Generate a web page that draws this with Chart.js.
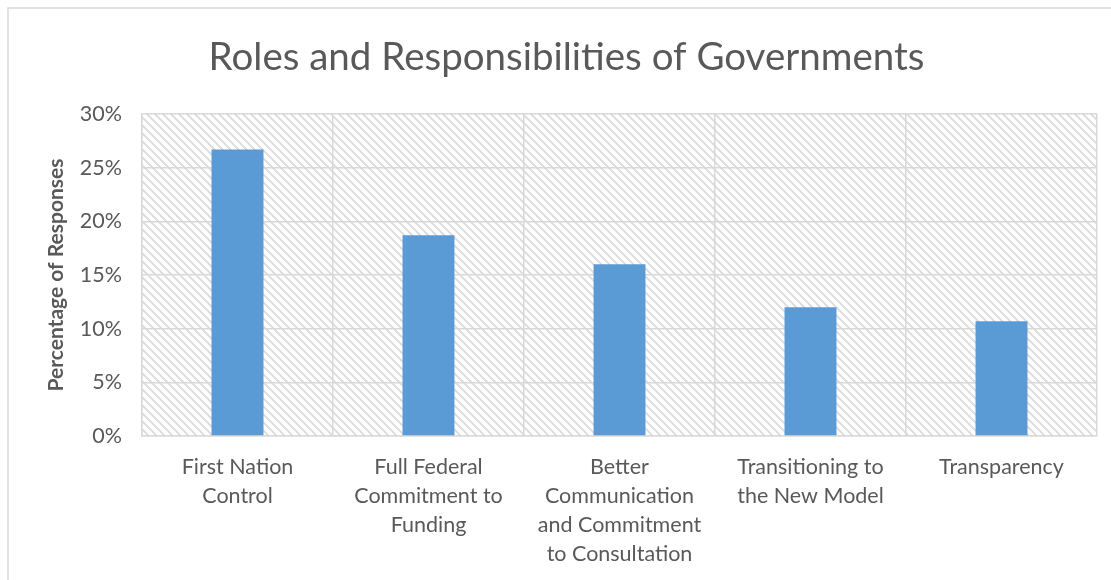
<!DOCTYPE html>
<html>
<head>
<meta charset="utf-8">
<script src="https://cdn.jsdelivr.net/npm/chart.js@4"></script>
<style>
  body { margin: 0; background: #fff; }
  #wrap { width: 1111px; height: 580px; }
</style>
</head>
<body>
<div id="wrap"><canvas id="myChart" width="1111" height="580"></canvas></div>
<script>
const categorias = [
    ['First Nation', 'Control'],
    ['Full Federal', 'Commitment to', 'Funding'],
    ['Better', 'Communication', 'and Commitment', 'to Consultation'],
    ['Transitioning to', 'the New Model'],
    ['Transparency']
];
const porcentajes = [26.7, 18.7, 16.0, 12.0, 10.7];
const tituloGrafico = 'Roles and Responsibilities of Governments';
const tituloEjeY = 'Percentage of Responses';

const fuente = 'Lato, "Open Sans", sans-serif';
const gris = '#595959';
const lineaGris = '#d9d9d9';

// hatch fill for the plot area, diagonal "\" stripes
function crearTrama() {
    const c = document.createElement('canvas');
    c.width = 8;
    c.height = 8;
    const g = c.getContext('2d');
    g.fillStyle = '#ffffff';
    g.fillRect(0, 0, 8, 8);
    g.fillStyle = '#e0e0e0';
    for (let y = 0; y < 8; y++) {
        for (let x = 0; x < 8; x++) {
            if (((x - y) % 8 + 8) % 8 < 3) g.fillRect(x, y, 1, 1);
        }
    }
    return c;
}

const fondoTrama = {
    id: 'fondoTrama',
    beforeDraw(chart) {
        const { ctx, chartArea } = chart;
        ctx.save();
        // outer chart frame
        ctx.strokeStyle = lineaGris;
        ctx.lineWidth = 1.5;
        ctx.strokeRect(8, 8, 1120, 600);
        ctx.fillStyle = ctx.createPattern(crearTrama(), 'repeat');
        ctx.fillRect(chartArea.left, chartArea.top, chartArea.right - chartArea.left, chartArea.bottom - chartArea.top);
        ctx.restore();
    }
};

const ctx = document.getElementById('myChart');
new Chart(ctx, {
    type: 'bar',
    data: {
        labels: categorias,
        datasets: [{
            data: porcentajes,
            backgroundColor: '#5b9bd5',
            categoryPercentage: 1,
            barPercentage: 0.272
        }]
    },
    options: {
        responsive: false,
        animation: false,
        layout: { padding: { left: 36, right: 14, top: 8, bottom: 0 } },
        plugins: {
            legend: { display: false },
            tooltip: { enabled: false },
            title: {
                display: true,
                text: tituloGrafico,
                color: gris,
                font: { family: fuente, size: 38.5, weight: 'normal' },
                padding: { top: 26, bottom: 33.8 }
            }
        },
        scales: {
            x: {
                grid: { color: lineaGris, lineWidth: 1.5, drawTicks: false },
                border: { color: lineaGris, width: 1.5 },
                ticks: {
                    color: gris,
                    font: { family: fuente, size: 21.5, lineHeight: 1.35 },
                    padding: 16.5,
                    maxRotation: 0,
                    autoSkip: false
                },
                afterFit(scale) { scale.height = 144; }
            },
            y: {
                min: 0,
                max: 30,
                grid: { color: lineaGris, lineWidth: 1.5, drawTicks: false },
                border: { color: lineaGris, width: 1.5 },
                ticks: {
                    stepSize: 5,
                    color: gris,
                    font: { family: fuente, size: 21.5 },
                    padding: 20,
                    callback: v => v + '%'
                },
                title: {
                    display: true,
                    text: tituloEjeY,
                    color: gris,
                    font: { family: fuente, size: 21, weight: 'bold' },
                    padding: { top: 8, bottom: 0 }
                },
                afterFit(scale) { scale.width = 106; }
            }
        }
    },
    plugins: [fondoTrama]
});
</script>
</body>
</html>
